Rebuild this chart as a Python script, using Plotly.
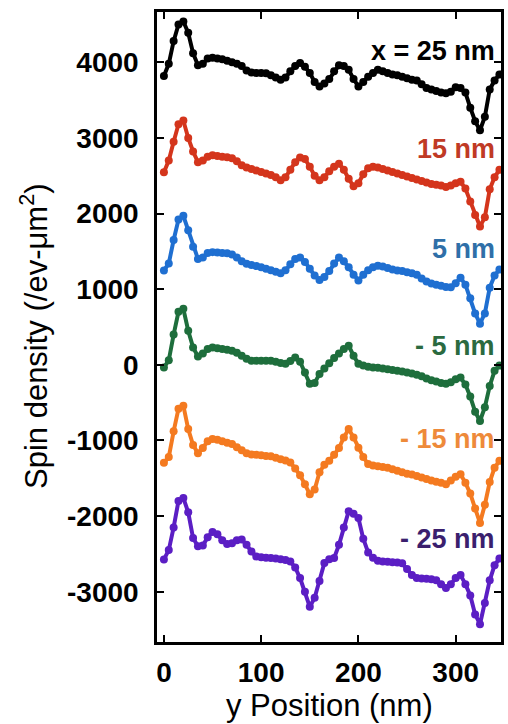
import plotly.graph_objects as go

y_position = [0, 5, 10, 15, 20, 25, 30, 35, 40, 45, 50, 55, 60, 65, 70, 75, 80, 85, 90, 95,
              100, 105, 110, 115, 120, 125, 130, 135, 140, 145, 150, 155, 160, 165, 170, 175,
              180, 185, 190, 195, 200, 205, 210, 215, 220, 225, 230, 235, 240, 245, 250, 255,
              260, 265, 270, 275, 280, 285, 290, 295, 300, 305, 310, 315, 320, 325, 330, 335,
              340, 345]

spin_x25 = [3820, 3980, 4280, 4500, 4540, 4390, 4120, 3960, 3980, 4050, 4060, 4050, 4040, 4020,
            4000, 3980, 3950, 3890, 3865, 3860, 3860, 3855, 3830, 3800, 3770, 3800, 3880, 3950,
            3990, 3940, 3860, 3740, 3680, 3720, 3780, 3880, 3960, 3950, 3900, 3780, 3680, 3740,
            3810, 3860, 3900, 3880, 3860, 3840, 3830, 3810, 3790, 3770, 3760, 3710, 3660, 3640,
            3620, 3600, 3590, 3610, 3670, 3660, 3600, 3400, 3220, 3100, 3280, 3640, 3760, 3840]

spin_x15 = [2546, 2700, 2950, 3180, 3230, 3000, 2820, 2680, 2700, 2750, 2770, 2760, 2750, 2745,
            2730, 2690, 2640, 2610, 2590, 2570, 2550, 2530, 2510, 2480, 2440, 2480, 2580, 2680,
            2740, 2720, 2620, 2500, 2440, 2480, 2560, 2620, 2660, 2580, 2460, 2360, 2400, 2520,
            2600, 2620, 2610, 2590, 2570, 2550, 2530, 2510, 2490, 2470, 2450, 2430, 2410, 2390,
            2380, 2370, 2350, 2370, 2400, 2420, 2330, 2160, 1980, 1830, 1950, 2320, 2480, 2580]

spin_x5 = [1247, 1340, 1650, 1920, 1970, 1780, 1560, 1400, 1420, 1480, 1490, 1485, 1480, 1475,
           1460, 1420, 1370, 1335, 1320, 1305, 1290, 1270, 1250, 1230, 1210, 1250, 1330, 1400,
           1420, 1360, 1270, 1180, 1120, 1160, 1240, 1340, 1420, 1370, 1290, 1190, 1114, 1190,
           1250, 1290, 1310, 1300, 1280, 1260, 1247, 1240, 1225, 1210, 1190, 1140, 1100, 1074,
           1060, 1045, 1030, 1025, 1080, 1150, 1060, 880, 680, 544, 680, 1020, 1180, 1260]

spin_xm5 = [-35, 60, 400, 700, 740, 450, 230, 110, 150, 210, 230, 220, 210, 200, 186, 160, 120,
            80, 55, 53, 53, 55, 53, 40, 25, 13, 50, 97, 40, -100, -250, -240, -120, -50, 20, 90,
            150, 210, 252, 120, 13, -10, -25, -35, -40, -50, -60, -70, -80, -90, -100, -115,
            -130, -150, -180, -205, -220, -240, -252, -230, -190, -168, -260, -420, -620, -743,
            -560, -280, -80, -10]

spin_xm15 = [-1296, -1220, -880, -580, -540, -850, -1060, -1170, -1100, -1010, -981, -990, -1010,
             -1030, -1048, -1090, -1130, -1170, -1185, -1190, -1195, -1205, -1210, -1230, -1250,
             -1265, -1290, -1370, -1460, -1580, -1710, -1650, -1420, -1320, -1270, -1190, -1100,
             -960, -849, -960, -1097, -1220, -1313, -1330, -1340, -1350, -1360, -1380, -1400,
             -1420, -1440, -1450, -1470, -1490, -1510, -1530, -1545, -1560, -1578, -1530, -1480,
             -1446, -1560, -1700, -1900, -2090, -1850, -1550, -1360, -1270]

spin_xm25 = [-2573, -2450, -2150, -1800, -1760, -1950, -2290, -2400, -2390, -2280, -2210, -2240,
             -2320, -2370, -2360, -2320, -2310, -2380, -2470, -2533, -2545, -2550, -2555, -2560,
             -2570, -2580, -2600, -2680, -2820, -3000, -3200, -3080, -2860, -2620, -2570, -2555,
             -2380, -2150, -1936, -1970, -2025, -2300, -2480, -2550, -2590, -2600, -2605, -2610,
             -2615, -2625, -2700, -2780, -2820, -2825, -2830, -2835, -2850, -2900, -2950, -2900,
             -2820, -2780, -2900, -3050, -3300, -3430, -3150, -2850, -2650, -2560]

series_names = ["x = 25 nm", "15 nm", "5 nm", "- 5 nm", "- 15 nm", "- 25 nm"]
series_values = [spin_x25, spin_x15, spin_x5, spin_xm5, spin_xm15, spin_xm25]
line_colors = ["#000000", "#d4351c", "#1f6fd1", "#1e6e3c", "#f47a20", "#5b1ec4"]
label_colors = ["#000000", "#c03a25", "#2f6fa8", "#2b6a40", "#ee8a3a", "#3b1f6e"]
label_y = [0.938, 0.7825, 0.6238, 0.4698, 0.3222, 0.1635]

x_ticks = [0, 100, 200, 300]
y_ticks = [-3000, -2000, -1000, 0, 1000, 2000, 3000, 4000]

fig = go.Figure()
for name, vals, col in zip(series_names, series_values, line_colors):
    fig.add_trace(go.Scatter(
        x=y_position, y=vals, mode="lines+markers", name=name,
        line=dict(color=col, width=4),
        marker=dict(color=col, size=8, symbol="circle"),
        showlegend=False,
    ))

annotations = []
for name, col, yy in zip(series_names, label_colors, label_y):
    annotations.append(dict(
        text=name, x=0.988, y=yy, xref="paper", yref="paper",
        xanchor="right", yanchor="middle", showarrow=False,
        font=dict(family="Liberation Sans, Arial", size=27, color=col, weight="bold"),
    ))

annotations.append(dict(
    text="Spin density (/ev-\u03bcm<sup>2</sup>)", x=-0.357, y=0.486,
    xref="paper", yref="paper", xanchor="center", yanchor="middle",
    textangle=-90, showarrow=False,
    font=dict(family="Liberation Sans, Arial", size=31, color="#000000"),
))
annotations.append(dict(
    text="y Position (nm)", x=0.501, y=-0.0698,
    xref="paper", yref="paper", xanchor="center", yanchor="top",
    showarrow=False,
    font=dict(family="Liberation Sans, Arial", size=31, color="#000000"),
))

tickfont = dict(family="Liberation Sans, Arial", size=28, color="#000000", weight="bold")

fig.update_layout(
    width=508, height=724,
    margin=dict(l=157, r=4, t=12, b=82),
    paper_bgcolor="white", plot_bgcolor="white",
    annotations=annotations,
    xaxis=dict(
        range=[-7.1, 346.6], tickvals=x_ticks, ticktext=[str(v) for v in x_ticks],
        ticks="inside", ticklen=7, tickwidth=2, tickcolor="#000000",
        showline=True, linewidth=2.5, linecolor="#000000", mirror="allticks",
        showgrid=False, zeroline=False, tickfont=tickfont, ticklabelstandoff=4,
    ),
    yaxis=dict(
        range=[-3665, 4665], tickvals=y_ticks, ticktext=[str(v) for v in y_ticks],
        ticks="inside", ticklen=7, tickwidth=2, tickcolor="#000000",
        showline=True, linewidth=2.5, linecolor="#000000", mirror="allticks",
        showgrid=False, zeroline=False, tickfont=tickfont, ticklabelstandoff=10,
    ),
)

fig.write_html("out.html")
